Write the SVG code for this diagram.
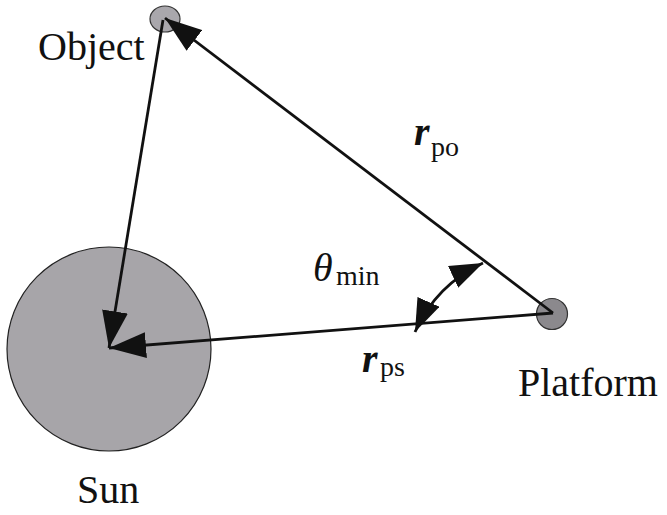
<svg xmlns="http://www.w3.org/2000/svg" width="667" height="515" viewBox="0 0 667 515">
<style>
.ln{stroke:#111;stroke-width:2.8;fill:none}
text{font-family:'Liberation Serif','DejaVu Serif','Times New Roman',serif;fill:#111}
.lbl{font-size:40px}
.sub{font-size:28px}
.vec{font-size:40px;font-weight:bold;font-style:italic}
</style>
<defs>
<marker id="ah" markerUnits="userSpaceOnUse" markerWidth="37" markerHeight="26" viewBox="0 0 37 26" refX="37" refY="13" orient="auto-start-reverse">
<path d="M0,0 L37,13 L0,26 Z" fill="#111"/>
</marker>
<marker id="ah2" markerUnits="userSpaceOnUse" markerWidth="33" markerHeight="24" viewBox="0 0 33 24" refX="33" refY="12" orient="auto-start-reverse">
<path d="M0,0 L33,12 L0,24 Z" fill="#111"/>
</marker>
</defs>
<rect width="667" height="515" fill="#fff"/>
<g id="sun">
<circle cx="109" cy="349" r="102" fill="#a7a5a9" stroke="#222" stroke-width="1.2"/>
<text class="lbl" x="77" y="503">Sun</text>
</g>
<g id="object">
<ellipse cx="165" cy="19" rx="15" ry="13" fill="#a9a7ac" stroke="#333" stroke-width="1.2"/>
<text class="lbl" x="38" y="60">Object</text>
</g>
<g id="platform">
<circle cx="552" cy="314" r="15.5" fill="#8b898d" stroke="#333" stroke-width="1.2"/>
<text class="lbl" x="518" y="396">Platform</text>
</g>
<g id="connectors">
<line class="ln" x1="163" y1="20" x2="109" y2="348" marker-end="url(#ah)"/>
<line class="ln" x1="553" y1="313" x2="165" y2="18" marker-end="url(#ah)"/>
<line class="ln" x1="553" y1="313" x2="109" y2="348" marker-end="url(#ah)"/>
<path class="ln" d="M415,332 Q436,285 483,263" marker-start="url(#ah2)" marker-end="url(#ah2)"/>
</g>
<g id="labels">
<text class="vec" x="414" y="145">r</text><text class="sub" x="431" y="156">po</text>
<text class="vec" x="362" y="372">r</text><text class="sub" x="380" y="376">ps</text>
<text class="lbl" font-style="italic" x="313" y="281">θ</text><text class="sub" x="336" y="285">min</text>
</g>
</svg>
